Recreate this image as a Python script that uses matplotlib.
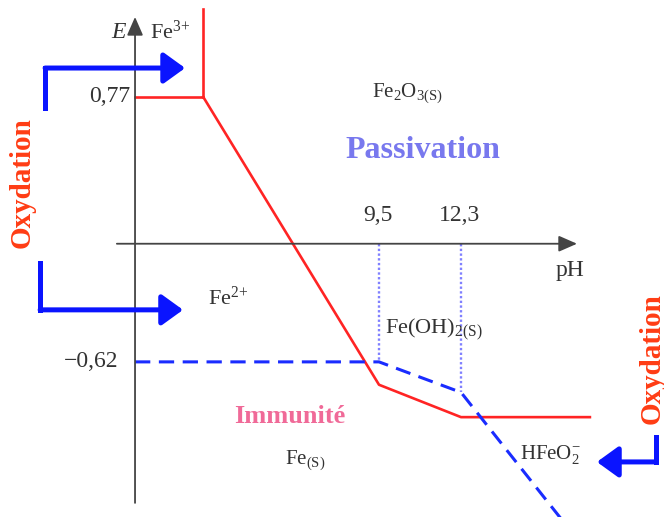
from matplotlib import pyplot as plt

plt.rcParams['font.family'] = ['Liberation Serif', 'DejaVu Serif']
plt.rcParams['mathtext.fontset'] = 'custom'
plt.rcParams['mathtext.rm'] = 'Liberation Serif'
plt.rcParams['mathtext.it'] = 'Liberation Serif:italic'
plt.rcParams['mathtext.bf'] = 'Liberation Serif:bold'

# schematic Pourbaix diagram of iron (pH, E in V)
e_axis_ph = 1.17
fe3_fe2_ph = [e_axis_ph, 3.5]
fe3_fe2_e = [0.77, 0.77]
fe3_oxide_ph = [3.5, 3.5]
fe3_oxide_e = [0.77, 1.23]
red_ph = [3.5, 9.5, 12.3, 16.7]
red_e = [0.77, -0.74, -0.91, -0.91]
blue_ph = [e_axis_ph, 9.5, 12.3, 15.75]
blue_e = [-0.62, -0.62, -0.78, -1.45]
ph_ticks = [9.5, 12.3]
ph_tick_labels = ["9,5", "12,3"]
ph_tick_e = [-0.62, -0.78]
e_ticks = [0.77, -0.62]
e_tick_labels = ["0,77", "\u22120,62"]

RED = "#ff2424"
BLUE = "#1a2cff"
ARROW_BLUE = "#0a14ff"
GREY = "#333333"

fig = plt.figure(figsize=(6.64, 5.17), dpi=100)
ax = fig.add_axes([0, 0, 1, 1])
ax.set_xlim(-3.44, 19.23)
ax.set_ylim(-1.434, 1.279)
ax.axis('off')

# axes with arrows
axis_kw = dict(arrowstyle='-|>,head_length=0.8,head_width=0.35', color="#444444",
               lw=1.3, mutation_scale=14, shrinkA=0, shrinkB=0)
ax.annotate('', xy=(16.26, 0), xytext=(0.55, 0), arrowprops=axis_kw)
ax.annotate('', xy=(e_axis_ph, 1.19), xytext=(e_axis_ph, -1.36), arrowprops=axis_kw)

# guide lines at the pH ticks
for ph, e in zip(ph_ticks, ph_tick_e):
    ax.plot([ph, ph], [0, e], color="#8080ff", lw=1.7, ls=(0, (1, 1)))

# boundaries
ax.plot(fe3_fe2_ph, fe3_fe2_e, color=RED, lw=1.9)
ax.plot(fe3_oxide_ph, fe3_oxide_e, color=RED, lw=1.9)
ax.plot(red_ph, red_e, color=RED, lw=1.9)
ax.plot(blue_ph, blue_e, color=BLUE, lw=2.2, dashes=(5, 2.8))

# tick labels
for ph, lab in zip(ph_ticks, ph_tick_labels):
    ax.text(ph - 0.05, 0.15, lab, ha='center', va='center', fontsize=17, color=GREY)
ax.text(1.0, e_ticks[0], e_tick_labels[0], ha='right', va='center', fontsize=17, color=GREY)
ax.text(0.6, e_ticks[1], e_tick_labels[1], ha='right', va='center', fontsize=17, color=GREY)
ax.text(16.02, -0.138, "pH", ha='center', va='center', fontsize=17, color=GREY)
ax.text(0.59, 1.11, "E", ha='center', va='center', fontsize=17, style='italic', color=GREY)

# species
ax.text(1.68, 1.11, r"$\mathrm{Fe^{3{+}}}$", ha='left', va='center', fontsize=16, color=GREY)
ax.text(10.46, 0.79, r"$\mathrm{Fe_2O_{3(S)}}$", ha='center', va='center', fontsize=15, color=GREY)
ax.text(3.66, -0.285, r"$\mathrm{Fe^{2{+}}}$", ha='left', va='center', fontsize=16, color=GREY)
ax.text(9.7, -0.45, r"$\mathrm{Fe(OH)_{2(S)}}$", ha='left', va='center', fontsize=16, color=GREY)
ax.text(6.97, -1.135, r"$\mathrm{Fe_{(S)}}$", ha='center', va='center', fontsize=15, color=GREY)
ax.text(14.31, -1.108, r"$\mathrm{HFeO_2^{-}}$", ha='left', va='center', fontsize=15, color=GREY)

# domains
ax.text(11.0, 0.49, "Passivation", ha='center', va='center', fontsize=23,
        fontweight='bold', color="#7878ee")
ax.text(6.46, -0.904, "Immunité", ha='center', va='center', fontsize=19,
        fontweight='bold', color="#f06a98")
ax.text(-2.69, 0.319, "Oxydation", ha='center', va='center', fontsize=21,
        fontweight='bold', color="#ff3c14", rotation=90)
ax.text(18.82, -0.605, "Oxydation", ha='center', va='center', fontsize=21,
        fontweight='bold', color="#ff3c14", rotation=90)

# L-shaped oxidation arrows
arrow_kw = dict(arrowstyle='-|>,head_length=0.65,head_width=0.47', color=ARROW_BLUE,
                lw=3.6, mutation_scale=20, shrinkA=0, shrinkB=0)
for x0, y0, y1, tip in [(-1.9, 0.712, 0.922, 2.88),
                        (-2.07, -0.101, -0.347, 2.81),
                        (18.96, -1.014, -1.145, 16.94)]:
    ax.plot([x0, x0], [y0, y1], color=ARROW_BLUE, lw=3.6, solid_capstyle='projecting')
    ax.annotate('', xy=(tip, y1), xytext=(x0, y1), arrowprops=arrow_kw)

fig.savefig("out.png", dpi=100)
